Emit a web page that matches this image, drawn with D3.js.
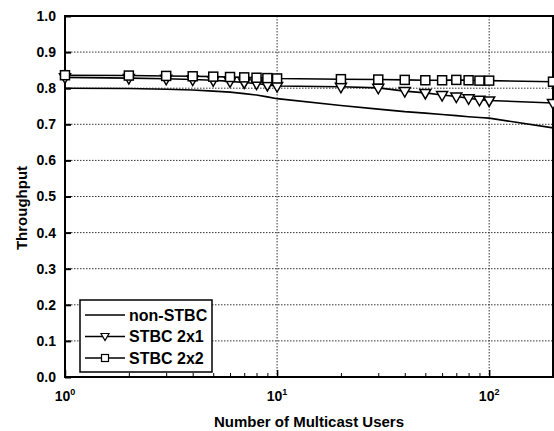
<!DOCTYPE html>
<meta charset="utf-8">
<style>
  body { margin: 0; background: #fff; }
  text { font-family: "Liberation Sans", Arial, sans-serif; fill: #000; font-weight: bold; }
</style>
<body>
<script src="https://d3js.org/d3.v7.min.js"></script>
<script>
  // users (log axis) and throughput per scheme
  var users = [1, 2, 3, 4, 5, 6, 7, 8, 9, 10, 20, 30, 40, 50, 60, 70, 80, 90, 100, 200];
  var nonStbc = [0.800, 0.799, 0.797, 0.795, 0.792, 0.789, 0.785, 0.781, 0.776, 0.771,
                 0.752, 0.742, 0.735, 0.731, 0.727, 0.724, 0.721, 0.719, 0.717, 0.690];
  var stbc2x1 = [0.830, 0.828, 0.826, 0.824, 0.822, 0.819, 0.816, 0.813, 0.809, 0.806,
                 0.804, 0.801, 0.792, 0.787, 0.781, 0.777, 0.772, 0.768, 0.766, 0.759];
  var stbc2x2 = [0.836, 0.835, 0.834, 0.833, 0.832, 0.831, 0.830, 0.829, 0.828, 0.827,
                 0.825, 0.824, 0.823, 0.822, 0.822, 0.823, 0.822, 0.821, 0.821, 0.818];
  var yTicks = [0, 0.1, 0.2, 0.3, 0.4, 0.5, 0.6, 0.7, 0.8, 0.9, 1.0];
  var xMajor = [1, 10, 100];
  var xMinor = [2, 3, 4, 5, 6, 7, 8, 9, 20, 30, 40, 50, 60, 70, 80, 90, 200];
  var legendNames = ["non-STBC", "STBC 2x1", "STBC 2x2"];

  var svg = d3.select("body").append("svg").attr("width", 554).attr("height", 431);

  var margin = {top: 16, right: 1, bottom: 54, left: 65},
      width = 554 - margin.left - margin.right,
      height = 431 - margin.top - margin.bottom,
      g = svg.append("g").attr("transform", "translate(" + margin.left + "," + margin.top + ")");

  var x = d3.scaleLog().domain([1, 200]).range([0, width]);
  var y = d3.scaleLinear().domain([0, 1]).range([height, 0]);

  // dotted grid
  g.selectAll(".hgrid").data(yTicks.slice(1, 10)).enter().append("line")
      .attr("x1", 0).attr("x2", width)
      .attr("y1", function(d) { return y(d); }).attr("y2", function(d) { return y(d); })
      .attr("stroke", "#333").attr("stroke-width", 1).attr("stroke-dasharray", "1.5,1.5");
  g.selectAll(".vgrid").data([10, 100]).enter().append("line")
      .attr("y1", 0).attr("y2", height)
      .attr("x1", function(d) { return x(d); }).attr("x2", function(d) { return x(d); })
      .attr("stroke", "#333").attr("stroke-width", 1).attr("stroke-dasharray", "1.5,1.5");

  // y axis
  var yAxis = g.append("g")
      .call(d3.axisLeft(y).tickValues(yTicks).tickFormat(d3.format(".1f")).tickSize(-6).tickPadding(9));
  yAxis.select(".domain").remove();
  yAxis.selectAll("line").attr("stroke-width", 2);
  yAxis.selectAll("text").style("font-size", "14px");

  // x axis: major and minor ticks pointing in
  var xAxis = g.append("g").attr("transform", "translate(0," + height + ")")
      .call(d3.axisBottom(x).tickValues(xMajor).tickSize(-7).tickFormat(""));
  xAxis.select(".domain").remove();
  xAxis.selectAll("line").attr("stroke-width", 1.5);
  g.append("g").attr("transform", "translate(0," + height + ")")
      .call(d3.axisBottom(x).tickValues(xMinor).tickSize(-4).tickFormat(""))
      .select(".domain").remove();

  var xl = g.selectAll(".xlab").data(xMajor).enter().append("text")
      .attr("x", function(d) { return x(d); })
      .attr("y", height + 24)
      .attr("text-anchor", "middle")
      .style("font-size", "14px");
  xl.append("tspan").text("10");
  xl.append("tspan").attr("dy", -6).style("font-size", "9px")
      .text(function(d) { return Math.round(Math.log10(d)); });

  // frame
  g.append("rect").attr("width", width).attr("height", height)
      .attr("fill", "none").attr("stroke", "#000").attr("stroke-width", 2);

  // series
  var line = d3.line()
      .x(function(d, i) { return x(users[i]); })
      .y(function(d) { return y(d); });

  [nonStbc, stbc2x1, stbc2x2].forEach(function(s) {
    g.append("path").datum(s).attr("d", line)
        .attr("fill", "none").attr("stroke", "#000").attr("stroke-width", 1.6);
  });

  var tri = "M-5.5,-3.5L5.5,-3.5L0,6Z";
  g.selectAll(".tri").data(stbc2x1).enter().append("path")
      .attr("d", tri)
      .attr("transform", function(d, i) { return "translate(" + x(users[i]) + "," + y(d) + ")"; })
      .attr("fill", "#fff").attr("stroke", "#000").attr("stroke-width", 1.5);
  g.selectAll(".sq").data(stbc2x2).enter().append("rect")
      .attr("x", function(d, i) { return x(users[i]) - 4.5; })
      .attr("y", function(d) { return y(d) - 4.5; })
      .attr("width", 9).attr("height", 9)
      .attr("fill", "#fff").attr("stroke", "#000").attr("stroke-width", 1.5);

  // legend
  var lg = svg.append("g").attr("transform", "translate(80,300)");
  lg.append("rect").attr("width", 132).attr("height", 72)
      .attr("fill", "#fff").attr("stroke", "#000").attr("stroke-width", 1.5);
  legendNames.forEach(function(name, i) {
    var ly = 15 + i * 21.5;
    lg.append("line").attr("x1", 5).attr("x2", 45).attr("y1", ly).attr("y2", ly)
        .attr("stroke", "#000").attr("stroke-width", 1.3);
    if (i === 1) {
      lg.append("path").attr("d", "M-4,-3L4,-3L0,4Z").attr("transform", "translate(25," + ly + ")")
          .attr("fill", "#fff").attr("stroke", "#000").attr("stroke-width", 1.2);
    }
    if (i === 2) {
      lg.append("rect").attr("x", 21.5).attr("y", ly - 3.5).attr("width", 7).attr("height", 7)
          .attr("fill", "#fff").attr("stroke", "#000").attr("stroke-width", 1.2);
    }
    lg.append("text").attr("x", 49).attr("y", ly + 5.5).style("font-size", "16px").text(name);
  });

  // axis titles
  svg.append("text").attr("x", margin.left + width / 2).attr("y", 427)
      .attr("text-anchor", "middle").style("font-size", "15px").text("Number of Multicast Users");
  svg.append("text").attr("transform", "translate(27,208) rotate(-90)")
      .attr("text-anchor", "middle").style("font-size", "15px").text("Throughput");
</script>
</body>
